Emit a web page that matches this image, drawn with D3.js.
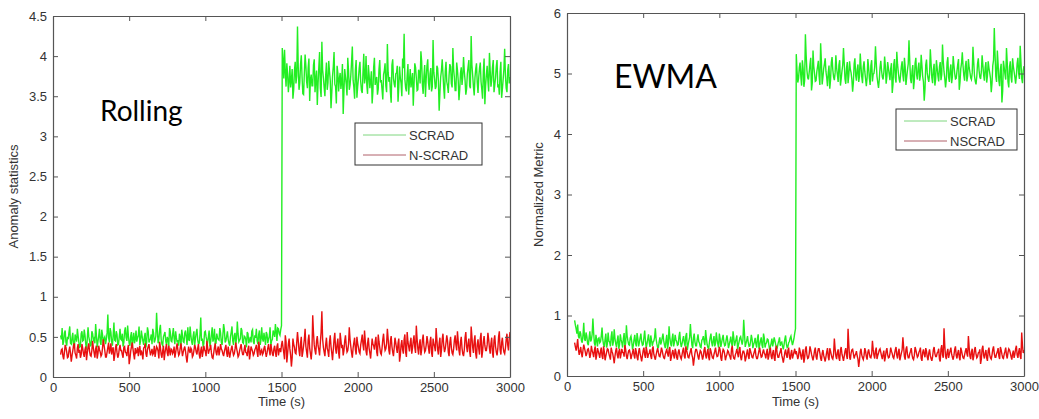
<!DOCTYPE html>
<html>
<head>
<meta charset="utf-8">
<script src="https://cdn.jsdelivr.net/npm/d3@7"></script>
<style>
  body { margin: 0; background: #fff; }
  svg { display: block; }
  .tick text { font-family: "Liberation Sans", Arial, sans-serif; font-size: 13px; fill: #333; }
  .lbl { font-family: "Liberation Sans", Arial, sans-serif; font-size: 13px; fill: #333; }
  .big { font-family: Lato, "Open Sans", sans-serif; fill: #000; }
</style>
</head>
<body>
<script>
// time axis: samples every 5 s from 50 s to 3000 s
let tStart = 50, tStep = 5;

// Rolling panel (before / after the switch at 1500 s)
let rollScradPre = [
  0.52,0.47,0.61,0.40,0.44,0.55,0.58,0.43,0.39,0.50,
  0.47,0.56,0.63,0.42,0.41,0.49,0.55,0.38,0.36,0.53,
  0.49,0.44,0.60,0.51,0.43,0.37,0.38,0.54,0.57,0.45,
  0.46,0.59,0.52,0.41,0.34,0.48,0.62,0.50,0.45,0.39,
  0.40,0.57,0.54,0.46,0.48,0.42,0.66,0.52,0.37,0.44,
  0.51,0.60,0.44,0.40,0.59,0.53,0.42,0.48,0.50,0.41,
  0.47,0.55,0.78,0.49,0.43,0.61,0.56,0.44,0.39,0.52,
  0.68,0.46,0.45,0.57,0.53,0.40,0.41,0.50,0.60,0.47,
  0.46,0.54,0.38,0.43,0.57,0.62,0.49,0.45,0.64,0.51,
  0.42,0.39,0.51,0.56,0.36,0.48,0.55,0.42,0.47,0.58,
  0.44,0.49,0.52,0.63,0.40,0.45,0.58,0.51,0.45,0.40,
  0.50,0.55,0.37,0.44,0.62,0.57,0.43,0.46,0.48,0.53,
  0.41,0.60,0.55,0.43,0.46,0.51,0.80,0.58,0.42,0.47,
  0.59,0.65,0.47,0.41,0.39,0.50,0.53,0.56,0.45,0.40,
  0.50,0.47,0.38,0.61,0.56,0.45,0.44,0.53,0.61,0.48,
  0.41,0.57,0.49,0.43,0.46,0.39,0.54,0.50,0.37,0.59,
  0.52,0.44,0.43,0.55,0.58,0.49,0.40,0.62,0.47,0.45,
  0.63,0.52,0.44,0.40,0.51,0.57,0.39,0.48,0.55,0.60,
  0.46,0.41,0.42,0.53,0.74,0.45,0.48,0.39,0.41,0.56,
  0.57,0.50,0.45,0.43,0.50,0.58,0.38,0.44,0.53,0.62,
  0.44,0.48,0.60,0.41,0.42,0.54,0.49,0.47,0.46,0.61,
  0.55,0.43,0.40,0.52,0.66,0.59,0.43,0.45,0.51,0.57,
  0.47,0.42,0.39,0.50,0.56,0.63,0.45,0.40,0.52,0.55,
  0.41,0.48,0.69,0.54,0.44,0.46,0.48,0.61,0.58,0.43,
  0.42,0.51,0.50,0.47,0.37,0.56,0.54,0.42,0.46,0.50,
  0.43,0.57,0.59,0.44,0.41,0.52,0.49,0.60,0.45,0.41,
  0.53,0.58,0.40,0.46,0.62,0.48,0.44,0.55,0.48,0.40,
  0.56,0.53,0.42,0.47,0.51,0.62,0.39,0.45,0.47,0.58,
  0.55,0.50,0.66,0.57,0.45,0.61,0.60,0.54,0.52,0.59,
  0.64];
let rollScradPost = [
  4.10,3.95,3.72,4.08,3.80,3.62,3.91,3.78,3.55,3.69,
  3.88,3.61,3.70,3.84,3.47,3.58,3.82,3.93,3.66,3.75,
  4.37,3.86,3.58,3.67,3.90,4.01,3.74,3.53,3.52,3.79,
  4.02,3.88,3.68,3.60,3.85,3.97,3.44,3.71,3.77,3.63,
  3.63,3.89,3.96,3.55,3.71,3.82,3.39,3.66,3.86,4.05,
  3.60,3.49,4.18,3.83,3.73,3.61,3.50,3.76,3.92,3.58,
  3.67,3.94,3.81,3.70,3.35,3.54,3.75,3.87,4.05,3.65,
  3.62,3.41,3.88,3.79,3.56,3.72,3.79,3.59,3.69,3.90,
  3.28,3.57,3.84,3.74,3.65,3.51,3.98,3.82,3.58,3.64,
  3.76,3.93,4.12,3.70,3.61,3.47,3.83,3.95,3.48,3.62,
  3.72,3.85,3.93,3.68,3.57,3.54,3.80,4.03,3.66,3.73,
  4.00,3.64,3.53,3.89,3.77,3.60,3.69,3.81,3.41,3.56,
  3.86,3.98,3.64,3.71,3.74,3.52,3.59,3.84,3.95,3.67,
  3.70,3.58,3.46,3.77,3.82,3.91,3.63,3.55,4.15,3.80,
  3.68,3.74,3.55,3.42,3.89,3.96,3.72,3.65,3.61,3.78,
  3.79,3.88,3.43,3.62,3.87,3.73,3.66,3.50,3.97,3.85,
  4.28,3.71,3.60,3.56,3.76,3.90,3.52,3.68,3.84,3.61,
  3.69,3.79,3.38,3.64,3.91,3.86,3.73,3.57,3.58,3.83,
  3.80,3.66,4.06,3.94,3.64,3.53,3.75,3.89,3.49,3.72,
  3.88,3.96,3.67,3.58,3.78,3.85,3.56,3.62,4.20,3.80,
  3.71,3.59,3.62,3.88,3.85,3.69,3.32,3.55,3.74,3.82,
  3.96,3.78,3.60,3.47,3.81,3.93,3.68,3.63,3.54,3.76,
  3.90,3.87,3.66,3.61,4.10,3.84,3.73,3.57,3.57,3.92,
  3.83,3.70,3.45,3.58,3.79,3.86,3.64,3.75,3.99,3.81,
  3.70,3.52,3.59,3.78,3.87,3.95,3.63,3.60,4.25,3.89,
  3.76,3.62,3.51,3.73,3.84,3.91,3.67,3.54,3.74,3.85,
  3.92,3.68,3.58,3.47,3.81,3.97,3.40,3.63,3.77,3.88,
  3.69,3.56,4.04,3.82,3.62,3.70,3.86,3.95,3.55,3.64,
  3.73,3.87,3.95,3.61,3.65,3.52,3.80,3.93,3.48,3.59,
  3.71,3.84,4.09,3.76,3.60,3.55,3.83,3.90,3.66,3.74];
let rollNscradPre = [
  0.28,0.34,0.35,0.26,0.22,0.31,0.40,0.37,0.31,0.24,
  0.25,0.33,0.38,0.29,0.19,0.27,0.33,0.39,0.42,0.30,
  0.27,0.23,0.36,0.41,0.30,0.34,0.24,0.28,0.41,0.36,
  0.29,0.25,0.34,0.38,0.21,0.30,0.37,0.42,0.32,0.27,
  0.26,0.33,0.45,0.36,0.30,0.24,0.35,0.39,0.23,0.29,
  0.39,0.34,0.31,0.26,0.28,0.36,0.47,0.40,0.33,0.25,
  0.25,0.31,0.37,0.43,0.29,0.34,0.42,0.28,0.34,0.37,
  0.20,0.27,0.36,0.41,0.31,0.24,0.27,0.35,0.40,0.33,
  0.33,0.28,0.24,0.37,0.38,0.31,0.30,0.26,0.35,0.40,
  0.16,0.23,0.32,0.38,0.43,0.35,0.28,0.22,0.36,0.30,
  0.31,0.37,0.26,0.34,0.39,0.27,0.33,0.29,0.22,0.36,
  0.37,0.42,0.29,0.25,0.34,0.38,0.41,0.33,0.27,0.31,
  0.35,0.28,0.30,0.39,0.25,0.32,0.38,0.36,0.32,0.23,
  0.44,0.37,0.28,0.24,0.33,0.39,0.21,0.30,0.36,0.41,
  0.30,0.26,0.39,0.33,0.27,0.35,0.34,0.29,0.31,0.38,
  0.24,0.30,0.37,0.42,0.33,0.27,0.29,0.36,0.42,0.34,
  0.26,0.31,0.35,0.38,0.32,0.24,0.18,0.29,0.38,0.33,
  0.30,0.36,0.34,0.25,0.27,0.33,0.40,0.37,0.31,0.28,
  0.36,0.41,0.28,0.23,0.33,0.38,0.25,0.31,0.39,0.34,
  0.32,0.26,0.45,0.37,0.29,0.33,0.35,0.40,0.30,0.24,
  0.23,0.30,0.37,0.42,0.31,0.27,0.34,0.38,0.27,0.33,
  0.41,0.35,0.33,0.29,0.26,0.32,0.36,0.40,0.30,0.25,
  0.38,0.31,0.24,0.30,0.35,0.39,0.32,0.27,0.29,0.35,
  0.43,0.36,0.31,0.25,0.27,0.33,0.37,0.41,0.33,0.28,
  0.28,0.34,0.40,0.31,0.30,0.26,0.35,0.39,0.22,0.29,
  0.38,0.35,0.32,0.27,0.29,0.34,0.36,0.40,0.31,0.25,
  0.44,0.38,0.27,0.32,0.34,0.28,0.30,0.36,0.39,0.31,
  0.25,0.30,0.36,0.41,0.33,0.27,0.41,0.35,0.29,0.26,
  0.35,0.39,0.31,0.25,0.38,0.42,0.27,0.33,0.36,0.31,
  0.40];
let rollNscradPost = [
  0.45,0.37,0.30,0.22,0.52,0.44,0.18,0.29,0.41,0.48,
  0.35,0.27,0.13,0.24,0.48,0.41,0.37,0.30,0.29,0.43,
  0.56,0.45,0.33,0.26,0.42,0.50,0.25,0.31,0.39,0.47,
  0.60,0.38,0.31,0.24,0.46,0.53,0.36,0.29,0.22,0.34,
  0.77,0.55,0.40,0.33,0.28,0.45,0.51,0.39,0.34,0.27,
  0.43,0.56,0.82,0.47,0.37,0.31,0.26,0.40,0.49,0.36,
  0.32,0.25,0.44,0.52,0.38,0.30,0.21,0.34,0.47,0.55,
  0.35,0.29,0.41,0.48,0.30,0.23,0.55,0.46,0.36,0.40,
  0.27,0.33,0.45,0.52,0.39,0.31,0.33,0.41,0.62,0.47,
  0.38,0.30,0.24,0.36,0.43,0.49,0.34,0.28,0.50,0.42,
  0.37,0.31,0.29,0.40,0.46,0.53,0.40,0.33,0.58,0.45,
  0.32,0.27,0.42,0.49,0.36,0.30,0.23,0.35,0.48,0.41,
  0.39,0.34,0.44,0.50,0.31,0.26,0.53,0.44,0.37,0.30,
  0.28,0.36,0.47,0.54,0.41,0.33,0.35,0.42,0.60,0.48,
  0.33,0.28,0.45,0.51,0.38,0.31,0.26,0.37,0.49,0.43,
  0.36,0.30,0.42,0.48,0.19,0.27,0.40,0.46,0.34,0.29,
  0.47,0.53,0.31,0.25,0.56,0.44,0.38,0.32,0.43,0.49,
  0.29,0.36,0.45,0.52,0.37,0.30,0.64,0.48,0.35,0.28,
  0.41,0.47,0.27,0.34,0.46,0.53,0.39,0.31,0.33,0.40,
  0.51,0.44,0.36,0.29,0.44,0.50,0.30,0.25,0.48,0.42,
  0.38,0.32,0.61,0.47,0.34,0.28,0.42,0.49,0.25,0.33,
  0.47,0.54,0.39,0.31,0.35,0.43,0.52,0.45,0.31,0.26,
  0.43,0.50,0.37,0.30,0.28,0.35,0.46,0.52,0.40,0.33,
  0.57,0.45,0.33,0.27,0.44,0.50,0.36,0.29,0.26,0.34,
  0.49,0.56,0.38,0.31,0.42,0.48,0.32,0.25,0.63,0.50,
  0.37,0.30,0.45,0.52,0.29,0.23,0.41,0.47,0.35,0.28,
  0.48,0.55,0.24,0.32,0.44,0.51,0.39,0.33,0.33,0.40,
  0.55,0.47,0.36,0.29,0.42,0.49,0.30,0.24,0.46,0.52,
  0.38,0.31,0.27,0.35,0.50,0.57,0.34,0.28,0.43,0.49,
  0.37,0.31,0.29,0.36,0.47,0.54,0.40,0.33,0.48,0.56];

// EWMA panel
let ewmaScradPre = [
  0.92,0.84,0.78,0.70,0.85,0.66,0.62,0.74,0.70,0.58,
  0.55,0.68,0.88,0.61,0.58,0.72,0.66,0.54,0.51,0.63,
  0.74,0.57,0.60,0.69,0.95,0.71,0.54,0.50,0.68,0.59,
  0.49,0.62,0.63,0.55,0.57,0.66,0.80,0.60,0.52,0.48,
  0.61,0.70,0.47,0.53,0.72,0.58,0.56,0.49,0.65,0.74,
  0.50,0.57,0.77,0.62,0.53,0.48,0.59,0.67,0.45,0.52,
  0.69,0.60,0.55,0.47,0.62,0.71,0.48,0.54,0.84,0.66,
  0.58,0.52,0.51,0.63,0.66,0.57,0.44,0.50,0.60,0.68,
  0.54,0.49,0.71,0.62,0.49,0.55,0.63,0.70,0.57,0.51,
  0.52,0.64,0.75,0.58,0.46,0.53,0.61,0.69,0.55,0.48,
  0.67,0.59,0.50,0.56,0.58,0.64,0.79,0.61,0.53,0.47,
  0.47,0.57,0.64,0.52,0.56,0.63,0.70,0.58,0.51,0.46,
  0.59,0.68,0.45,0.53,0.82,0.64,0.54,0.49,0.62,0.70,
  0.49,0.55,0.68,0.60,0.57,0.51,0.52,0.65,0.73,0.56,
  0.48,0.53,0.60,0.66,0.55,0.49,0.66,0.71,0.43,0.51,
  0.58,0.64,0.86,0.67,0.51,0.46,0.63,0.70,0.56,0.50,
  0.50,0.61,0.69,0.57,0.54,0.48,0.47,0.59,0.61,0.66,
  0.57,0.51,0.76,0.63,0.52,0.47,0.45,0.56,0.64,0.70,
  0.55,0.49,0.59,0.66,0.49,0.54,0.72,0.61,0.53,0.47,
  0.70,0.62,0.48,0.55,0.62,0.68,0.56,0.50,0.51,0.60,
  0.67,0.58,0.46,0.52,0.58,0.65,0.54,0.49,0.74,0.63,
  0.50,0.56,0.61,0.67,0.44,0.51,0.57,0.63,0.65,0.58,
  0.52,0.60,0.93,0.71,0.48,0.54,0.59,0.66,0.55,0.49,
  0.50,0.57,0.68,0.61,0.46,0.52,0.56,0.63,0.53,0.47,
  0.62,0.69,0.45,0.51,0.58,0.64,0.51,0.46,0.70,0.63,
  0.47,0.53,0.55,0.61,0.60,0.52,0.43,0.49,0.54,0.62,
  0.49,0.56,0.64,0.58,0.52,0.46,0.46,0.53,0.58,0.64,
  0.50,0.55,0.56,0.49,0.44,0.52,0.61,0.67,0.53,0.47,
  0.48,0.55,0.57,0.63,0.66,0.58,0.51,0.56,0.62,0.71,
  0.78];
let ewmaScradPost = [
  5.32,5.05,4.85,4.92,5.10,5.18,4.95,4.80,5.22,5.08,
  4.78,4.88,5.65,5.30,5.05,4.93,4.90,5.02,5.15,5.26,
  4.72,4.84,5.38,5.12,5.00,4.87,4.88,5.03,5.12,5.21,
  4.96,4.81,5.50,5.20,4.82,4.94,5.08,5.16,5.25,5.03,
  4.93,4.79,5.02,5.13,4.75,4.89,5.18,5.27,5.06,4.94,
  4.89,5.01,5.30,5.09,4.98,4.86,5.14,5.22,4.80,4.91,
  5.04,5.14,5.42,5.17,4.91,4.83,5.09,5.19,4.84,4.97,
  5.20,5.07,5.01,4.90,4.70,4.85,5.16,5.25,4.97,4.88,
  5.07,5.15,4.86,4.95,5.33,5.12,4.94,4.84,5.11,5.20,
  5.03,4.91,4.79,4.93,5.24,5.10,4.92,4.81,5.13,5.22,
  4.87,4.99,5.00,5.11,5.45,5.18,4.95,4.85,4.76,4.90,
  5.10,5.21,5.05,4.94,4.90,5.02,5.28,5.12,4.83,4.95,
  5.19,5.09,4.99,4.89,5.08,5.17,4.68,4.82,5.15,5.24,
  4.93,4.85,5.36,5.15,5.02,4.91,4.85,4.98,5.12,5.20,
  4.97,4.87,5.26,5.11,4.81,4.94,5.06,5.16,5.55,5.21,
  4.91,4.84,5.04,5.14,4.74,4.88,5.17,5.26,4.98,4.90,
  5.09,5.18,4.88,4.97,5.31,5.13,4.95,4.86,4.55,4.74,
  5.14,5.23,5.01,4.92,4.86,4.99,5.40,5.17,4.93,4.84,
  5.07,5.16,4.80,4.91,5.22,5.09,4.96,4.87,5.11,5.19,
  4.89,4.98,5.48,5.20,5.03,4.92,4.77,4.90,5.18,5.27,
  4.94,4.86,5.06,5.15,4.84,4.95,5.29,5.14,5.00,4.91,
  4.92,5.04,5.15,5.24,4.73,4.86,5.08,5.17,5.35,5.12,
  4.97,4.88,5.12,5.21,4.87,4.96,5.24,5.10,5.02,4.93,
  4.90,5.01,5.44,5.19,4.96,4.87,4.82,4.95,5.16,5.25,
  5.05,4.94,4.91,5.03,5.30,5.14,4.98,4.88,5.10,5.19,
  4.85,4.96,5.20,5.09,5.01,4.92,4.69,4.84,5.13,5.22,
  5.75,5.31,4.95,4.86,5.38,5.16,4.88,4.79,5.07,5.16,
  4.52,4.71,5.21,5.10,4.99,4.90,5.42,5.18,4.86,4.77,
  5.11,5.20,4.94,4.85,5.25,5.12,5.03,4.94,4.83,4.96,
  5.17,5.26,5.00,4.91,5.46,5.19,4.92,4.84,5.05,5.12];
let ewmaNscradPre = [
  0.55,0.48,0.42,0.50,0.61,0.44,0.35,0.41,0.48,0.37,
  0.31,0.43,0.52,0.46,0.40,0.33,0.37,0.44,0.45,0.39,
  0.30,0.36,0.50,0.42,0.38,0.31,0.43,0.49,0.27,0.35,
  0.46,0.41,0.36,0.30,0.41,0.47,0.33,0.28,0.49,0.40,
  0.26,0.33,0.39,0.45,0.44,0.37,0.32,0.27,0.47,0.41,
  0.37,0.30,0.21,0.33,0.42,0.47,0.35,0.29,0.40,0.45,
  0.29,0.36,0.45,0.39,0.38,0.32,0.51,0.44,0.33,0.28,
  0.36,0.42,0.43,0.37,0.28,0.34,0.39,0.45,0.34,0.29,
  0.46,0.40,0.31,0.26,0.40,0.46,0.37,0.31,0.24,0.33,
  0.42,0.47,0.35,0.30,0.48,0.41,0.30,0.36,0.38,0.44,
  0.33,0.28,0.44,0.49,0.36,0.31,0.27,0.35,0.41,0.46,
  0.39,0.33,0.32,0.38,0.47,0.42,0.35,0.30,0.29,0.36,
  0.40,0.45,0.37,0.32,0.43,0.48,0.25,0.31,0.38,0.43,
  0.34,0.29,0.45,0.40,0.31,0.27,0.39,0.44,0.36,0.31,
  0.28,0.35,0.42,0.47,0.33,0.29,0.49,0.43,0.37,0.31,
  0.30,0.36,0.41,0.46,0.35,0.30,0.17,0.28,0.38,0.44,
  0.44,0.39,0.32,0.27,0.36,0.42,0.40,0.34,0.27,0.33,
  0.43,0.48,0.34,0.29,0.39,0.45,0.31,0.26,0.46,0.41,
  0.35,0.30,0.29,0.36,0.41,0.47,0.37,0.32,0.33,0.40,
  0.48,0.43,0.30,0.25,0.38,0.44,0.42,0.36,0.26,0.32,
  0.36,0.42,0.40,0.35,0.32,0.27,0.45,0.50,0.34,0.29,
  0.28,0.35,0.39,0.45,0.37,0.31,0.43,0.48,0.31,0.26,
  0.35,0.41,0.41,0.36,0.24,0.30,0.38,0.44,0.33,0.28,
  0.46,0.41,0.36,0.31,0.30,0.36,0.40,0.46,0.34,0.29,
  0.29,0.35,0.42,0.47,0.37,0.31,0.32,0.39,0.44,0.38,
  0.35,0.29,0.39,0.45,0.27,0.33,0.41,0.47,0.33,0.28,
  0.38,0.43,0.30,0.25,0.45,0.50,0.36,0.31,0.31,0.37,
  0.40,0.46,0.34,0.29,0.22,0.30,0.39,0.44,0.35,0.30,
  0.42,0.47,0.32,0.27,0.37,0.43,0.29,0.34,0.40,0.45,
  0.36];
let ewmaNscradPost = [
  0.41,0.35,0.28,0.33,0.47,0.41,0.33,0.27,0.38,0.44,
  0.22,0.30,0.44,0.49,0.35,0.29,0.30,0.37,0.49,0.43,
  0.36,0.31,0.26,0.33,0.42,0.47,0.32,0.27,0.39,0.45,
  0.45,0.38,0.29,0.25,0.37,0.43,0.34,0.29,0.24,0.32,
  0.40,0.46,0.31,0.26,0.46,0.41,0.35,0.30,0.28,0.36,
  0.62,0.45,0.33,0.28,0.39,0.44,0.30,0.25,0.43,0.48,
  0.36,0.31,0.25,0.33,0.41,0.46,0.34,0.28,0.78,0.52,
  0.31,0.27,0.38,0.43,0.44,0.37,0.29,0.34,0.36,0.41,
  0.33,0.28,0.15,0.26,0.40,0.45,0.35,0.30,0.27,0.34,
  0.46,0.41,0.32,0.27,0.39,0.44,0.37,0.31,0.30,0.36,
  0.58,0.44,0.34,0.29,0.42,0.47,0.28,0.34,0.38,0.43,
  0.45,0.39,0.33,0.28,0.36,0.42,0.24,0.31,0.41,0.46,
  0.35,0.30,0.31,0.37,0.47,0.41,0.37,0.31,0.29,0.36,
  0.43,0.48,0.34,0.29,0.40,0.45,0.26,0.32,0.38,0.43,
  0.64,0.47,0.32,0.27,0.44,0.49,0.36,0.30,0.30,0.37,
  0.41,0.46,0.35,0.29,0.27,0.34,0.48,0.43,0.37,0.31,
  0.33,0.39,0.42,0.47,0.29,0.25,0.39,0.44,0.36,0.31,
  0.46,0.41,0.31,0.26,0.38,0.44,0.34,0.29,0.25,0.32,
  0.43,0.48,0.37,0.32,0.32,0.38,0.40,0.45,0.28,0.24,
  0.45,0.51,0.35,0.30,0.79,0.50,0.33,0.28,0.39,0.45,
  0.30,0.36,0.42,0.47,0.36,0.31,0.27,0.34,0.44,0.49,
  0.34,0.29,0.38,0.43,0.31,0.26,0.47,0.42,0.35,0.30,
  0.29,0.35,0.41,0.46,0.37,0.32,0.66,0.47,0.33,0.28,
  0.40,0.45,0.26,0.32,0.43,0.48,0.36,0.30,0.32,0.38,
  0.39,0.44,0.20,0.28,0.45,0.50,0.34,0.29,0.38,0.43,
  0.30,0.25,0.42,0.47,0.35,0.30,0.28,0.35,0.44,0.49,
  0.37,0.31,0.31,0.37,0.40,0.46,0.33,0.28,0.48,0.43,
  0.36,0.30,0.29,0.36,0.41,0.47,0.34,0.29,0.39,0.45,
  0.43,0.38,0.32,0.27,0.37,0.42,0.30,0.36,0.45,0.50,
  0.35,0.30,0.40,0.46,0.33,0.28,0.72,0.50,0.38,0.43];

let xTicks = [0, 500, 1000, 1500, 2000, 2500, 3000];
let rollTicks = [0, 0.5, 1, 1.5, 2, 2.5, 3, 3.5, 4, 4.5];
let ewmaTicks = [0, 1, 2, 3, 4, 5, 6];

let green = "#22ee22", red = "#e81010";
let axisCol = "#555";

var svg = d3.select("body").append("svg")
  .attr("width", 1039)
  .attr("height", 419);

function toPoints(vals) {
  return vals.map((v, i) => ({t: tStart + i * tStep, v: v}));
}

function panel(opt) {
  let x = d3.scaleLinear().domain([0, 3000]).range([opt.x0, opt.x1]);
  let y = d3.scaleLinear().domain([0, opt.ymax]).range([opt.y1, opt.y0]);
  let g = svg.append('g');

  let line = d3.line().x(d => x(d.t)).y(d => y(d.v));

  g.append('path')
    .attr('d', line(toPoints(opt.scrad)))
    .attr('fill', 'none').attr('stroke', green).attr('stroke-width', 1.4);
  g.append('path')
    .attr('d', line(toPoints(opt.nscrad)))
    .attr('fill', 'none').attr('stroke', red).attr('stroke-width', 1.4);

  let fmt = d => String(d);
  // matlab style box, ticks pointing inwards on every side
  let bottom = g.append('g').attr('transform', 'translate(0,' + opt.y1 + ')')
    .call(d3.axisBottom(x).tickValues(xTicks).tickFormat(fmt).tickSizeInner(-5).tickSizeOuter(0).tickPadding(6));
  let top = g.append('g').attr('transform', 'translate(0,' + opt.y0 + ')')
    .call(d3.axisTop(x).tickValues(xTicks).tickSizeInner(-5).tickSizeOuter(0).tickFormat(''));
  let left = g.append('g').attr('transform', 'translate(' + opt.x0 + ',0)')
    .call(d3.axisLeft(y).tickValues(opt.yTicks).tickFormat(fmt).tickSizeInner(-5).tickSizeOuter(0).tickPadding(6));
  let right = g.append('g').attr('transform', 'translate(' + opt.x1 + ',0)')
    .call(d3.axisRight(y).tickValues(opt.yTicks).tickSizeInner(-5).tickSizeOuter(0).tickFormat(''));
  [bottom, top, left, right].forEach(a => {
    a.selectAll('path, line').attr('stroke', axisCol);
    a.select('.domain').attr('stroke-width', 1.2);
  });

  g.append('text').attr('class', 'lbl')
    .attr('x', (opt.x0 + opt.x1) / 2).attr('y', 406)
    .attr('text-anchor', 'middle').text('Time (s)');
  g.append('text').attr('class', 'lbl')
    .attr('transform', 'translate(' + opt.ylabX + ',' + ((opt.y0 + opt.y1) / 2) + ') rotate(-90)')
    .attr('text-anchor', 'middle').text(opt.ylabel);

  g.append('text').attr('class', 'big')
    .attr('x', opt.titleX).attr('y', opt.titleY)
    .style('font-size', opt.titleSize + 'px').text(opt.title);

  // legend
  let lg = g.append('g');
  lg.append('rect')
    .attr('x', opt.leg[0]).attr('y', opt.leg[1])
    .attr('width', opt.leg[2]).attr('height', opt.leg[3])
    .attr('fill', '#fff').attr('stroke', '#333').attr('stroke-width', 1);
  [[opt.names[0], '#7fd67f'], [opt.names[1], '#b0606a']].forEach((d, i) => {
    let yy = opt.leg[1] + 12 + i * 20;
    lg.append('line')
      .attr('x1', opt.leg[0] + 8).attr('x2', opt.leg[0] + 51)
      .attr('y1', yy).attr('y2', yy)
      .attr('stroke', d[1]).attr('stroke-width', 1);
    lg.append('text').attr('class', 'lbl')
      .attr('x', opt.leg[0] + 54).attr('y', yy + 5).text(d[0]);
  });
}

panel({
  x0: 53, x1: 510, y0: 16, y1: 377, ymax: 4.5, yTicks: rollTicks,
  scrad: rollScradPre.concat(rollScradPost), nscrad: rollNscradPre.concat(rollNscradPost),
  ylabel: 'Anomaly statistics', ylabX: 18,
  title: 'Rolling', titleX: 100, titleY: 121, titleSize: 28,
  leg: [355, 123, 127, 42], names: ['SCRAD', 'N-SCRAD']
});

panel({
  x0: 567, x1: 1024, y0: 13, y1: 376, ymax: 6, yTicks: ewmaTicks,
  scrad: ewmaScradPre.concat(ewmaScradPost), nscrad: ewmaNscradPre.concat(ewmaNscradPost),
  ylabel: 'Normalized Metric', ylabX: 543,
  title: 'EWMA', titleX: 614, titleY: 88, titleSize: 32,
  leg: [896, 109, 121, 41], names: ['SCRAD', 'NSCRAD']
});
</script>
</body>
</html>
